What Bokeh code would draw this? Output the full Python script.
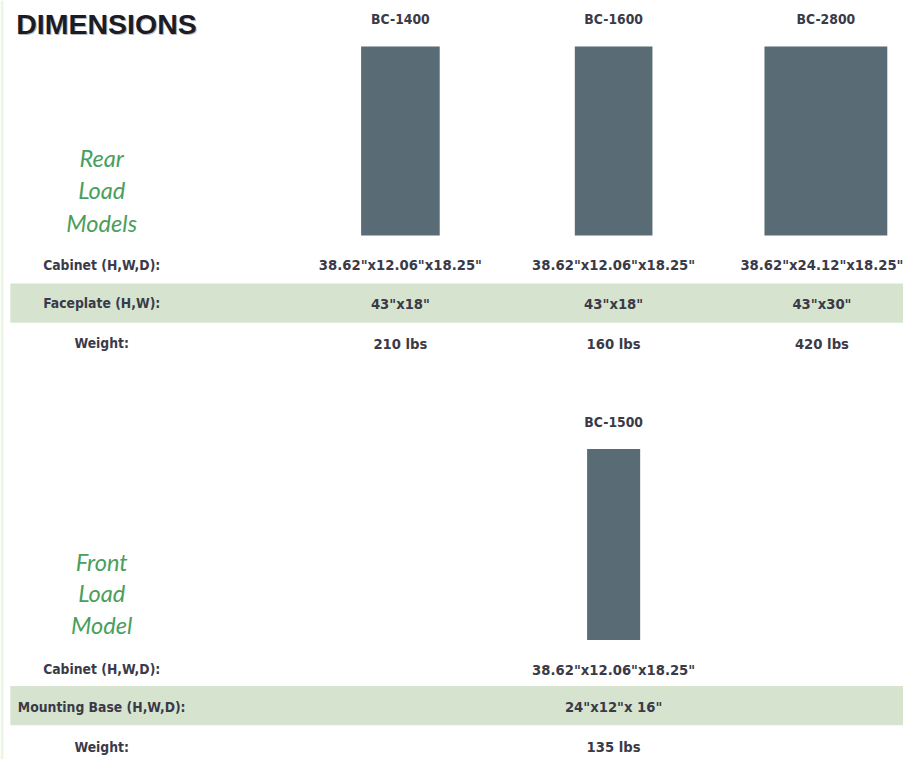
from bokeh.plotting import figure
from bokeh.models import Range1d, ColumnDataSource
from bokeh.core.properties import value
from bokeh.embed import file_html
from bokeh.resources import INLINE

# ---------------- data ----------------
title = "DIMENSIONS"

rear_models = ["BC-1400", "BC-1600", "BC-2800"]
rear_cabinet = ['38.62"x12.06"x18.25"', '38.62"x12.06"x18.25"', '38.62"x24.12"x18.25"']
rear_faceplate = ['43"x18"', '43"x18"', '43"x30"']
rear_weight = ["210 lbs", "160 lbs", "420 lbs"]
rear_labels = ["Cabinet (H,W,D):", "Faceplate (H,W):", "Weight:"]
rear_group = ["Rear", "Load", "Models"]

front_models = ["BC-1500"]
front_cabinet = ['38.62"x12.06"x18.25"']
front_mounting = ['24"x12"x 16"']
front_weight = ["135 lbs"]
front_labels = ["Cabinet (H,W,D):", "Mounting Base (H,W,D):", "Weight:"]
front_group = ["Front", "Load", "Model"]

# ---------------- layout (reference pixel space) ----------------
REF_W, REF_H = 919, 775
S = 903 / REF_W  # font scale
label_x = 103
rear_col_x = [407, 624, 840]
rear_text_x = [407, 624, 836]
rear_bar_w = [80, 79, 125]
rear_bar_top, rear_bar_bottom = 47, 240
rear_name_y = 19
rear_rows_y = [270, 309, 350]
rear_band = (289, 329)
rear_group_y = [161, 194, 227]

front_col_x = [624]
front_bar_w = [54]
front_bar_top, front_bar_bottom = 458, 653
front_name_y = 430
front_rows_y = [683, 721, 762]
front_band = (700, 740)
front_group_y = [573, 605, 638]

BAR = "#596c75"
BAND = "#d6e4cf"
GREEN = "#4a9e5c"
DARK = "#3a3a48"
COND = value("DejaVu Sans Condensed")

p = figure(width=903, height=759, x_range=Range1d(0, REF_W), y_range=Range1d(REF_H, 0),
           output_backend="svg", toolbar_location=None, min_border=0,
           x_axis_location=None, y_axis_location=None)
p.grid.visible = False
p.outline_line_color = None
p.background_fill_color = "white"
p.border_fill_color = "white"

# left faint border
p.quad(left=[0], right=[3], top=[0], bottom=[REF_H], fill_color="#eaf5e4", line_color=None)

# bands
for b in (rear_band, front_band):
    p.quad(left=[10], right=[REF_W], top=[b[0]], bottom=[b[1]], fill_color=BAND, line_color=None)

# bars
def bars(cols, widths, top, bottom):
    src = ColumnDataSource(dict(
        left=[c - w / 2 for c, w in zip(cols, widths)],
        right=[c + w / 2 for c, w in zip(cols, widths)],
        top=[top] * len(cols), bottom=[bottom] * len(cols)))
    p.quad(left="left", right="right", top="top", bottom="bottom", source=src,
           fill_color=BAR, line_color=None)

bars(rear_col_x, rear_bar_w, rear_bar_top, rear_bar_bottom)
bars(front_col_x, front_bar_w, front_bar_top, front_bar_bottom)

def txt(xs, ys, texts, size, color=DARK, font=COND, style="bold", align="center", baseline="middle"):
    p.text(x=xs, y=ys, text=texts, text_font=font, text_font_style=style,
           text_font_size=f"{size * S:.1f}px", text_color=color,
           text_align=align, text_baseline=baseline)

# title
p.text(x=[17], y=[25], text=[title], text_font=value("Liberation Sans"), text_font_style="bold",
       text_font_size=f"{29 * S:.1f}px", text_color="#b8b8bc", text_align="left", text_baseline="alphabetic")
p.text(x=[16], y=[24], text=[title], text_font=value("Liberation Sans"), text_font_style="bold",
       text_font_size=f"{29 * S:.1f}px", text_color="#1c1c24", text_align="left", text_baseline="alphabetic")

# model names
txt(rear_col_x, [rear_name_y] * 3, rear_models, 14)
txt(front_col_x, [front_name_y], front_models, 14)

# group labels (green italic)
txt([label_x] * 3, rear_group_y, rear_group, 24, color=GREEN, font=value("Lato"), style="italic",
    baseline="alphabetic")
txt([label_x] * 3, front_group_y, front_group, 24, color=GREEN, font=value("Lato"), style="italic",
    baseline="alphabetic")

# row labels
txt([label_x] * 3, rear_rows_y, rear_labels, 14)
txt([label_x] * 3, front_rows_y, front_labels, 14)

# row values
for vals, y in zip((rear_cabinet, rear_faceplate, rear_weight), rear_rows_y):
    txt(rear_text_x, [y] * len(vals), vals, 15)
for vals, y in zip((front_cabinet, front_mounting, front_weight), front_rows_y):
    txt(front_col_x, [y] * len(vals), vals, 15)

open("out.html", "w").write(file_html(p, INLINE))
